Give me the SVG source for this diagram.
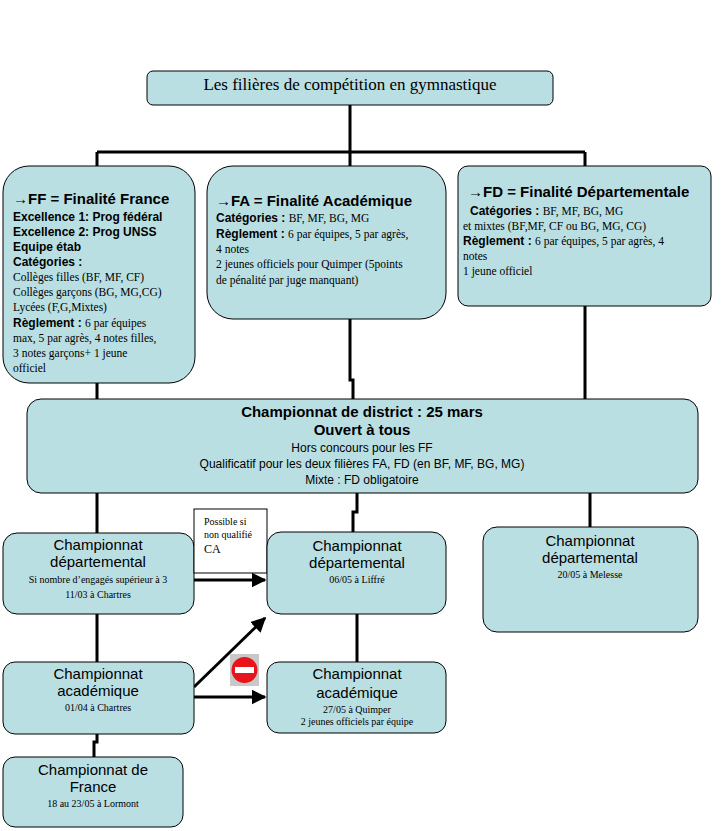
<svg xmlns="http://www.w3.org/2000/svg" width="723" height="831" viewBox="0 0 723 831">
<defs>
<style>
.b{fill:#b9dfe3;stroke:#000;stroke-width:1}
.c{stroke:#000;stroke-width:3;fill:none}
.s{font-family:"Liberation Serif",serif;font-size:11.5px}
.h{font-family:"Liberation Sans",sans-serif;font-weight:bold;font-size:12px}
.t{font-family:"Liberation Sans",sans-serif;font-size:15px}
.tb{font-family:"Liberation Sans",sans-serif;font-weight:bold;font-size:15px}
</style>
<marker id="a" markerWidth="5" markerHeight="5" refX="4.5" refY="2.5" orient="auto" markerUnits="strokeWidth"><path d="M0,0L5,2.5L0,5z"/></marker>
</defs>
<rect width="723" height="831" fill="#fff"/>
<g id="connectors">
<path class="c" d="M350,105V152M97,152H585M97,152V168M350,152V168M585,152V168"/>
<path class="c" d="M97,383V400M350,319V380H353V400M585,306V400"/>
<path class="c" d="M97,493V534M357,493V512H353V533M590,493V528"/>
<path class="c" d="M97,614V662M357,614V662M97,734V742H94V757"/>
<path class="c" marker-end="url(#a)" d="M194,580H265"/>
<path class="c" marker-end="url(#a)" d="M194,687L265,618"/>
<path class="c" marker-end="url(#a)" d="M194,697H265"/>
</g>
<g id="title"><rect class="b" x="147" y="71" width="406" height="34" rx="6"/>
<text x="350" y="90" text-anchor="middle" style="font-family:'Liberation Serif',serif;font-size:17px">Les filières de compétition en gymnastique</text></g>
<g id="ff"><rect class="b" x="3" y="166" width="192" height="217" rx="26"/>
<text x="13" y="204" class="tb">→FF = Finalité France</text>
<text x="13" y="221" class="h">Excellence 1: Prog fédéral</text>
<text x="13" y="236" class="h">Excellence 2: Prog UNSS</text>
<text x="13" y="251" class="h">Equipe étab</text>
<text x="13" y="266" class="h">Catégories :</text>
<text x="13" y="281" class="s">Collèges filles (BF, MF, CF)</text>
<text x="13" y="296" class="s">Collèges garçons (BG, MG,CG)</text>
<text x="13" y="311" class="s">Lycées (F,G,Mixtes)</text>
<text x="13" y="327" class="s"><tspan class="h">Règlement : </tspan>6 par équipes</text>
<text x="13" y="342" class="s">max, 5 par  agrès, 4 notes filles,</text>
<text x="13" y="357" class="s">3 notes garçons+ 1 jeune</text>
<text x="13" y="372" class="s">officiel</text></g>
<g id="fa"><rect class="b" x="207" y="166" width="239" height="153" rx="26"/>
<text x="216" y="206" class="tb">→FA = Finalité Académique</text>
<text x="216" y="222" class="s"><tspan class="h">Catégories : </tspan>BF, MF, BG, MG</text>
<text x="216" y="238" class="s"><tspan class="h">Règlement : </tspan>6 par équipes, 5 par  agrès,</text>
<text x="216" y="253" class="s">4 notes</text>
<text x="216" y="268" class="s">2 jeunes officiels pour Quimper (5points</text>
<text x="216" y="284" class="s">de pénalité par juge manquant)</text></g>
<g id="fd"><rect class="b" x="458" y="166" width="253" height="140" rx="10"/>
<text x="468" y="197" class="tb">→FD = Finalité Départementale</text>
<text x="470" y="215" class="s"><tspan class="h">Catégories : </tspan>BF, MF, BG, MG</text>
<text x="463" y="230" class="s">et mixtes (BF,MF, CF ou BG, MG, CG)</text>
<text x="463" y="245" class="s"><tspan class="h">Règlement : </tspan>6 par équipes, 5 par  agrès, 4</text>
<text x="463" y="260" class="s">notes</text>
<text x="463" y="275" class="s">1 jeune officiel</text></g>
<g id="district"><rect class="b" x="27" y="399" width="671" height="94" rx="14"/>
<g text-anchor="middle"><text x="362" y="417" class="tb">Championnat de district : 25 mars</text>
<text x="362" y="435" class="tb">Ouvert à tous</text>
<text x="362" y="452" style="font-family:'Liberation Sans',sans-serif;font-size:12px">Hors concours pour les FF</text>
<text x="362" y="468" style="font-family:'Liberation Sans',sans-serif;font-size:12px">Qualificatif pour les deux filières FA, FD (en BF, MF, BG, MG)</text>
<text x="362" y="484" style="font-family:'Liberation Sans',sans-serif;font-size:12px">Mixte : FD obligatoire</text></g></g>
<g id="cd1" text-anchor="middle"><rect class="b" x="3" y="533" width="191" height="81" rx="14"/>
<text x="98" y="550" class="t">Championnat</text><text x="98" y="567" class="t">départemental</text>
<text x="98" y="583" class="s" style="font-size:10px">Si nombre d’engagés supérieur à 3</text>
<text x="98" y="598" class="s" style="font-size:10px">11/03 à Chartres</text></g>
<g id="note"><rect x="194" y="509" width="73" height="64" fill="#fff" stroke="#000"/>
<text x="204" y="525" class="s" style="font-size:10px">Possible  si</text>
<text x="204" y="538" class="s" style="font-size:10px">non qualifié</text>
<text x="204" y="553" class="s" style="font-size:12px">CA</text></g>
<g id="cd2" text-anchor="middle"><rect class="b" x="267" y="532" width="179" height="82" rx="14"/>
<text x="357" y="551" class="t">Championnat</text><text x="357" y="568" class="t">départemental</text>
<text x="357" y="583" class="s" style="font-size:10px">06/05 à Liffré</text></g>
<g id="cd3" text-anchor="middle"><rect class="b" x="483" y="527" width="215" height="105" rx="14"/>
<text x="590" y="546" class="t">Championnat</text><text x="590" y="563" class="t">départemental</text>
<text x="590" y="578" class="s" style="font-size:10px">20/05 à Melesse</text></g>
<g id="ca1" text-anchor="middle"><rect class="b" x="3" y="662" width="191" height="72" rx="12"/>
<text x="98" y="679" class="t">Championnat</text><text x="98" y="696" class="t">académique</text>
<text x="98" y="711" class="s" style="font-size:10px">01/04 à Chartres</text></g>
<g id="ca2" text-anchor="middle"><rect class="b" x="267" y="662" width="179" height="71" rx="12"/>
<text x="357" y="679" class="t">Championnat</text><text x="357" y="698" class="t">académique</text>
<text x="357" y="713" class="s" style="font-size:10px">27/05 à Quimper</text>
<text x="357" y="725" class="s" style="font-size:10px">2 jeunes officiels par équipe</text></g>
<g id="cf" text-anchor="middle"><rect class="b" x="3" y="757" width="180" height="70" rx="12"/>
<text x="93" y="775" class="t">Championnat  de</text><text x="93" y="792" class="t">France</text>
<text x="93" y="807" class="s" style="font-size:10px">18 au 23/05 à Lormont</text></g>
<g id="noentry"><rect x="230" y="654" width="29" height="32" fill="#c8c8c8"/>
<circle cx="244.5" cy="670" r="13" fill="#e8141b"/><rect x="235" y="667" width="19" height="6" fill="#fff"/></g>
</svg>
